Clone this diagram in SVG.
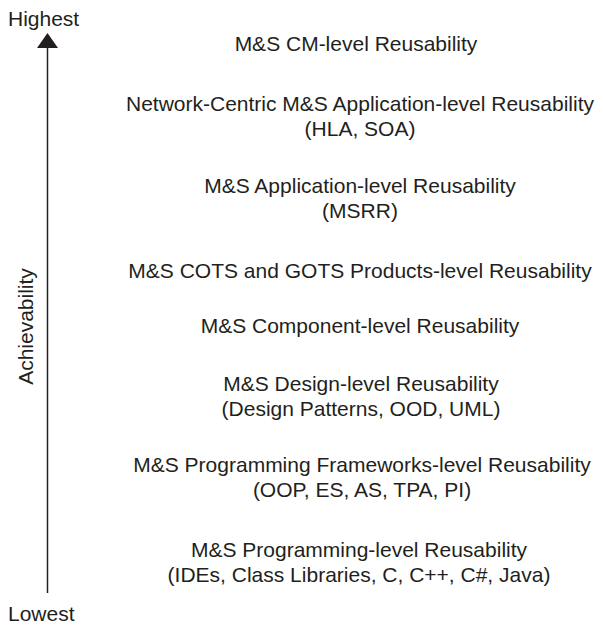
<svg xmlns="http://www.w3.org/2000/svg" width="603" height="625" viewBox="0 0 603 625">
<style>
text{font-family:"Liberation Sans",Arial,sans-serif;font-size:21px;fill:#231f20}
.c{text-anchor:middle}
</style>
<rect width="603" height="625" fill="#fff"/>
<g id="connectors">
<line x1="47.5" y1="46" x2="47.5" y2="593" stroke="#231f20" stroke-width="1.5"/>
<polygon points="47.5,33 37,48 58,48" fill="#231f20"/>
</g>
<g id="axis-labels">
<text x="8" y="26">Highest</text>
<text x="8" y="621">Lowest</text>
<text transform="translate(33,326.5) rotate(-90)" class="c">Achievability</text>
</g>
<g id="level8"><text class="c" x="356" y="51">M&amp;S CM-level Reusability</text></g>
<g id="level7"><text class="c" x="360" y="111">Network-Centric M&amp;S Application-level Reusability</text><text class="c" x="360" y="136">(HLA, SOA)</text></g>
<g id="level6"><text class="c" x="360" y="193">M&amp;S Application-level Reusability</text><text class="c" x="360" y="218">(MSRR)</text></g>
<g id="level5"><text class="c" x="360" y="278">M&amp;S COTS and GOTS Products-level Reusability</text></g>
<g id="level4"><text class="c" x="360" y="333">M&amp;S Component-level Reusability</text></g>
<g id="level3"><text class="c" x="361" y="391">M&amp;S Design-level Reusability</text><text class="c" x="361" y="416">(Design Patterns, OOD, UML)</text></g>
<g id="level2"><text class="c" x="362" y="472">M&amp;S Programming Frameworks-level Reusability</text><text class="c" x="362" y="497">(OOP, ES, AS, TPA, PI)</text></g>
<g id="level1"><text class="c" x="359" y="557">M&amp;S Programming-level Reusability</text><text class="c" x="359" y="582">(IDEs, Class Libraries, C, C++, C#, Java)</text></g>
</svg>
